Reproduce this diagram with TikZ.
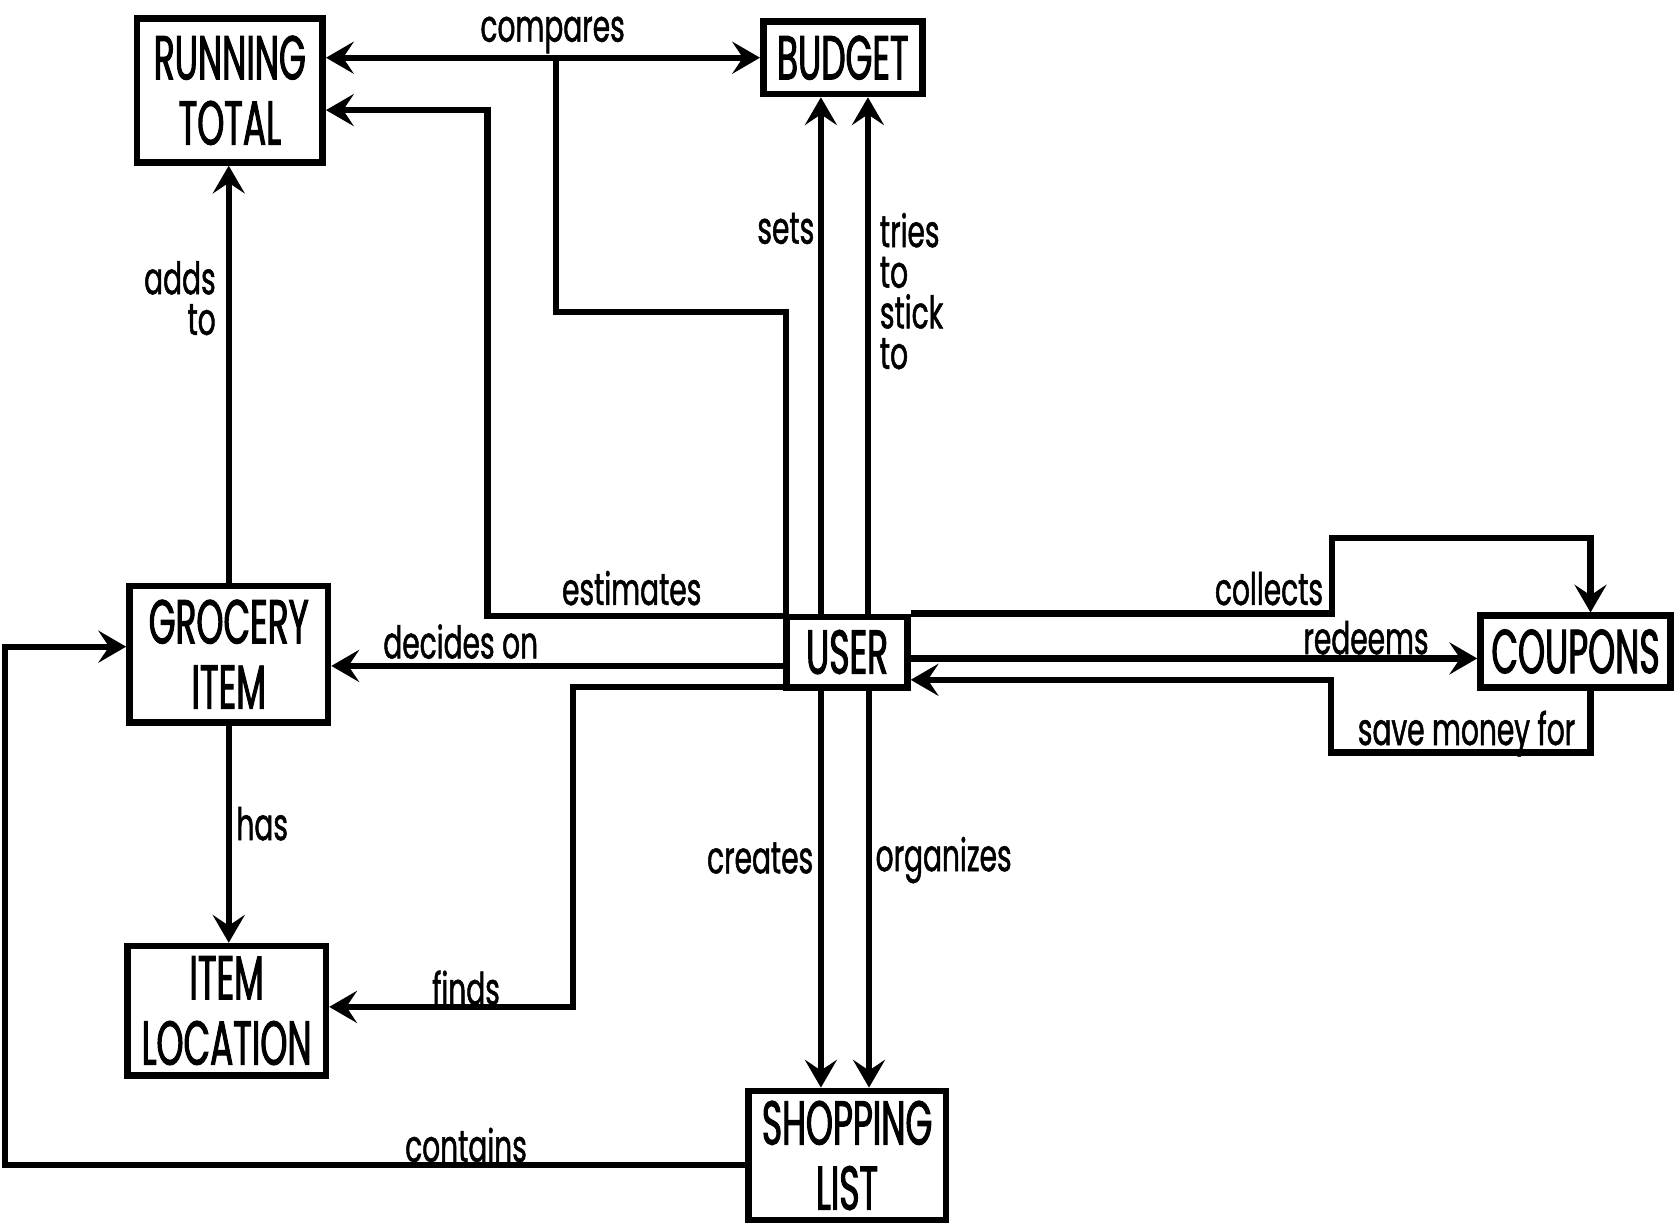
\documentclass[tikz,border=0pt]{standalone}
\usepackage{fontspec}
\setmainfont{Poppins}
\newfontfamily\boxfont[FakeStretch=0.555,FakeBold=1.6]{Poppins}
\newfontfamily\labfont[FakeStretch=0.625,FakeBold=1.1]{Poppins}
\usetikzlibrary{arrows.meta}
\begin{document}
\begin{tikzpicture}[x=1pt,y=-1pt,
  entity/.style={draw,line width=6.2pt,inner sep=0pt,align=center,
    font=\boxfont\fontsize{58}{61}\selectfont},
  lab/.style={inner sep=0pt,font=\labfont\fontsize{42}{38}\selectfont},
  conn/.style={line width=5.8pt},
  arr/.style={conn,-{Stealth[length=26pt,width=30pt,inset=10pt]}},
  darr/.style={conn,{Stealth[length=26pt,width=30pt,inset=10pt]}-{Stealth[length=26pt,width=30pt,inset=10pt]}}]
\useasboundingbox (0,0) rectangle (1568,1149);
\fill[white] (0,0) rectangle (1568,1149);

% entities
\node[entity,minimum width=173.8pt,minimum height=134.8pt] (rt) at (215,84.5) {RUNNING\\TOTAL};
\node[entity,minimum width=148.8pt,minimum height=67.8pt] (budget) at (788.5,54) {BUDGET};
\node[entity,minimum width=185.8pt,minimum height=127.8pt] (gi) at (214,612) {GROCERY\\ITEM};
\node[entity,minimum width=112.8pt,minimum height=65.8pt] (user) at (792.5,610) {USER};
\node[entity,minimum width=177.8pt,minimum height=66.8pt] (coupons) at (1474,609.5) {COUPONS};
\node[entity,minimum width=185.8pt,minimum height=120.8pt] (il) at (212,945.5) {ITEM\\LOCATION};
\node[entity,minimum width=184.8pt,minimum height=120.8pt] (sl) at (792.5,1081) {SHOPPING\\LIST};

% bend coordinates
\coordinate (cmpS) at (520,54);
\coordinate (cmpA) at (520,292);
\coordinate (cmpB) at (735,292);
\coordinate (e1) at (456,576);
\coordinate (e2) at (456,103);
\coordinate (d1) at (0,623);
\coordinate (f1) at (536,643);
\coordinate (f2) at (536,942);
\coordinate (s1) at (768,0);
\coordinate (t1) at (812,0);
\coordinate (c1) at (768,0);
\coordinate (o1) at (813,0);
\coordinate (k1) at (5,1090);
\coordinate (k2) at (5,605);
\coordinate (cl1) at (1246,574);
\coordinate (cl2) at (1246,503);
\coordinate (cl3) at (1488,503);
\coordinate (r1) at (0,616);
\coordinate (sm1) at (1488,704);
\coordinate (sm2) at (1245,704);
\coordinate (sm3) at (1245,636);

% connectors
\draw[darr] (rt.east |- cmpS) -- (budget.west |- cmpS);
\draw[conn] (cmpS) -- (cmpA) -- (cmpB) -- (cmpB |- user.north);
\draw[arr] (user.west |- e1) -- (e1) -- (e2) -- (rt.east |- e2);
\draw[arr] (user.west |- d1) -- (gi.east |- d1);
\draw[arr] (user.west |- f1) -- (f1) -- (f2) -- (il.east |- f2);
\draw[arr] (user.north -| s1) -- (budget.south -| s1);
\draw[arr] (user.north -| t1) -- (budget.south -| t1);
\draw[arr] (user.south -| c1) -- (sl.north -| c1);
\draw[arr] (user.south -| o1) -- (sl.north -| o1);
\draw[arr] (sl.west |- k1) -- (k1) -- (k2) -- (gi.west |- k2);
\draw[arr] (gi.north) -- (rt.south -| gi.north);
\draw[arr] (gi.south) -- (il.north -| gi.south);
\draw[arr] (user.east |- cl1) -- (cl1) -- (cl2) -- (cl3) -- (cl3 |- coupons.north);
\draw[arr] (user.east |- r1) -- (coupons.west |- r1);
\draw[arr] (coupons.south -| sm1) -- (sm1) -- (sm2) -- (sm3) -- (user.east |- sm3);

% labels
\node[lab,anchor=base] (lcompares) at (517,39) {compares};
\node[lab,anchor=base] (lestimates) at (591,566) {estimates};
\node[lab,anchor=base] (ldecides) at (431,616) {decides on};
\node[lab,anchor=base] (lfinds) at (436,940) {finds};
\node[lab,anchor=base east] (lsets) at (762,228) {sets};
\node[lab,anchor=north west,align=left] (ltries) at (823,199) {tries\\to\\stick\\to};
\node[lab,anchor=north east,align=right] (ladds) at (202,244) {adds\\to};
\node[lab,anchor=base west] (lhas) at (221,786) {has};
\node[lab,anchor=base east] (lcreates) at (761,817) {creates};
\node[lab,anchor=base west] (lorganizes) at (819,815) {organizes};
\node[lab,anchor=base] (lcontains) at (436,1087) {contains};
\node[lab,anchor=base east] (lcollects) at (1238,566) {collects};
\node[lab,anchor=base] (lredeems) at (1278,612) {redeems};
\node[lab,anchor=base] (lsave) at (1372,697) {save money for};
\end{tikzpicture}
\end{document}
